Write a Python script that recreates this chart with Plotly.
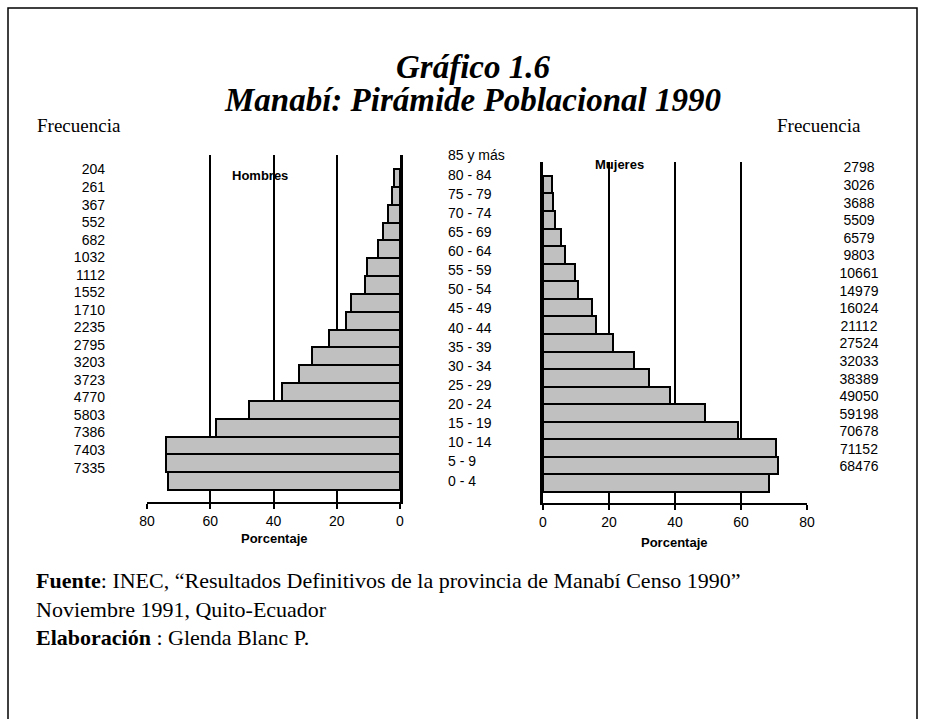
import plotly.graph_objects as go

# ---------------- data (bottom -> top) ----------------
age_groups = ["0 - 4", "5 - 9", "10 - 14", "15 - 19", "20 - 24", "25 - 29", "30 - 34",
              "35 - 39", "40 - 44", "45 - 49", "50 - 54", "55 - 59", "60 - 64",
              "65 - 69", "70 - 74", "75 - 79", "80 - 84", "85 y más"]

# left column labels are clipped in the source: only the visible digits are kept
men_freq_labels = ["7335", "7403", "7386", "5803", "4770", "3723", "3203", "2795", "2235",
                   "1710", "1552", "1112", "1032", "682", "552", "367", "261", "204"]
men_values = [73.35, 74.03, 73.86, 58.03, 47.70, 37.23, 32.03, 27.95, 22.35,
              17.10, 15.52, 11.12, 10.32, 6.82, 5.52, 3.67, 2.61, 2.04]

women_freq = [68476, 71152, 70678, 59198, 49050, 38389, 32033, 27524, 21112,
              16024, 14979, 10661, 9803, 6579, 5509, 3688, 3026, 2798]
women_values = [f / 1000 for f in women_freq]

x_ticks = [0, 20, 40, 60, 80]

# ---------------- helpers ----------------
W, H = 926, 719
def fx(p):
    return p / W
def fy(p):
    return 1 - p / H

SANS = "Liberation Sans, Arial, sans-serif"
SERIF = "Liberation Serif, Times New Roman, serif"
BAR_FILL = "#C0C0C0"

fig = go.Figure()

# bars
fig.add_trace(go.Bar(y=age_groups, x=men_values, orientation="h",
                     marker=dict(color=BAR_FILL, line=dict(color="black", width=2)),
                     xaxis="x", yaxis="y", hoverinfo="skip", showlegend=False))
fig.add_trace(go.Bar(y=age_groups, x=women_values, orientation="h",
                     marker=dict(color=BAR_FILL, line=dict(color="black", width=2)),
                     xaxis="x2", yaxis="y2", hoverinfo="skip", showlegend=False))

# label columns (text traces on hidden category axes)
fig.add_trace(go.Scatter(y=age_groups, x=[448] * len(age_groups), text=age_groups,
                         mode="text", textposition="middle right",
                         textfont=dict(family=SANS, size=14, color="black"),
                         xaxis="x3", yaxis="y3", hoverinfo="skip", showlegend=False))
fig.add_trace(go.Scatter(y=age_groups, x=[105] * len(age_groups), text=men_freq_labels,
                         mode="text", textposition="middle left",
                         textfont=dict(family=SANS, size=14, color="black"),
                         xaxis="x3", yaxis="y4", hoverinfo="skip", showlegend=False))
fig.add_trace(go.Scatter(y=age_groups, x=[859] * len(age_groups), text=[str(v) for v in women_freq],
                         mode="text", textposition="middle center",
                         textfont=dict(family=SANS, size=14, color="black"),
                         xaxis="x3", yaxis="y5", hoverinfo="skip", showlegend=False))

axis_common = dict(showline=True, linecolor="black", linewidth=2,
                   showgrid=True, gridcolor="black", gridwidth=2,
                   zeroline=False, ticks="outside", ticklen=5, tickwidth=2,
                   tickcolor="black", tickvals=x_ticks, automargin=False,
                   tickfont=dict(family=SANS, size=14, color="black"),
                   fixedrange=True)

cat_common = dict(type="category", categoryorder="array", categoryarray=age_groups,
                  fixedrange=True, automargin=False)

fig.update_layout(
    width=W, height=H, autosize=False,
    margin=dict(l=0, r=0, t=0, b=0, pad=0, autoexpand=False),
    paper_bgcolor="white", plot_bgcolor="rgba(0,0,0,0)",
    bargap=0, showlegend=False,
    xaxis=dict(domain=[fx(147), fx(400)], range=[80, 0], anchor="y", **axis_common),
    xaxis2=dict(domain=[fx(543), fx(807)], range=[0, 80], anchor="y2", **axis_common),
    xaxis3=dict(domain=[0, 1], range=[0, W], visible=False, anchor="y3",
                fixedrange=True, automargin=False),
    yaxis=dict(domain=[fy(502), fy(155)], range=[-1.173, 18.29], anchor="x", side="right",
               showline=True, linecolor="black", linewidth=3, showticklabels=False,
               ticks="", showgrid=False, zeroline=False, **cat_common),
    yaxis2=dict(domain=[fy(503), fy(162)], range=[-1.126, 18.29], anchor="x2", side="left",
                showline=True, linecolor="black", linewidth=3, showticklabels=False,
                ticks="", showgrid=False, zeroline=False, **cat_common),
    yaxis3=dict(domain=[fy(491.6), fy(147.4)], range=[-0.5, 17.5], anchor="x3",
                visible=False, **cat_common),
    yaxis4=dict(domain=[fy(477.8), fy(162.2)], range=[-0.5, 17.5], anchor="x3",
                visible=False, **cat_common),
    yaxis5=dict(domain=[fy(476.8), fy(160.2)], range=[-0.5, 17.5], anchor="x3",
                visible=False, **cat_common),
)

ann = []
def add_text(text, x, y, size, family, xanchor="center"):
    ann.append(dict(text=text, x=fx(x), y=fy(y), xref="paper", yref="paper",
                    xanchor=xanchor, yanchor="middle", showarrow=False, borderpad=0,
                    font=dict(family=family, size=size, color="black")))

add_text("<b><i>Gráfico 1.6</i></b>", 473, 67, 33, SERIF)
add_text("<b><i>Manabí: Pirámide Poblacional 1990</i></b>", 473, 100, 33, SERIF)
add_text("Frecuencia", 36, 125, 19, SERIF, "left")
add_text("Frecuencia", 776, 125, 19, SERIF, "left")
add_text("<b>Hombres</b>", 260, 175, 13, SANS)
add_text("<b>Mujeres</b>", 619, 165, 13, SANS)
add_text("<b>Porcentaje</b>", 274, 538, 13, SANS)
add_text("<b>Porcentaje</b>", 674, 542, 13, SANS)
add_text("<b>Fuente</b>: INEC, “Resultados Definitivos de la provincia de Manabí Censo 1990”",
         35, 580, 22, SERIF, "left")
add_text("Noviembre 1991, Quito-Ecuador", 35, 609, 22, SERIF, "left")
add_text("<b>Elaboración</b> : Glenda Blanc P.", 35, 637, 22, SERIF, "left")
fig.update_layout(annotations=ann)

# outer frame
fig.add_shape(type="rect", xref="paper", yref="paper",
              x0=fx(8), x1=fx(917), y0=fy(740), y1=fy(8),
              line=dict(color="black", width=1.5), fillcolor="rgba(0,0,0,0)", layer="below")

fig.write_html("out.html", config={"displayModeBar": False},
               post_script="document.body.style.margin='0px';document.body.style.overflow='hidden';")
